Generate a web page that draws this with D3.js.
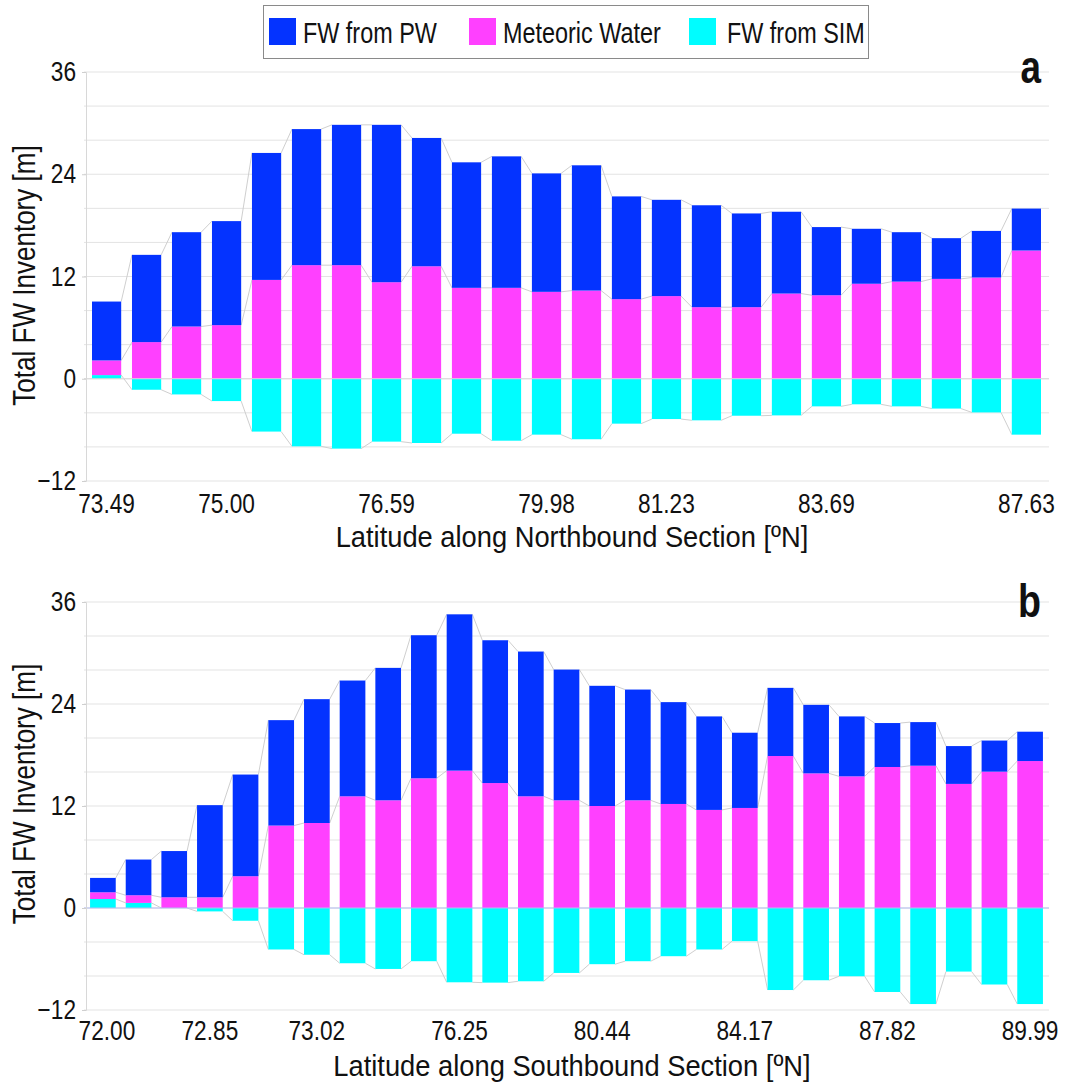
<!DOCTYPE html>
<html>
<head>
<meta charset="UTF-8">
<title>FW Inventory</title>
<script src="https://d3js.org/d3.v7.min.js"></script>
<style>
  body { margin: 0; background: #fff; }
  text { font-family: "Liberation Sans", Arial, sans-serif; fill: #111; }
</style>
</head>
<body>
<svg width="1065" height="1082"></svg>
<script>
// panel a: northbound section
const pwA  = [6.91, 10.24, 11.07, 12.21, 14.9, 15.97, 16.47, 18.47, 15.06, 14.73, 15.43, 13.9,
              14.7, 12.06, 11.3, 11.96, 11.0, 9.6, 8.0, 6.45, 5.8, 4.78, 5.47, 4.92];
const mwA  = [1.72, 4.3, 6.13, 6.29, 11.6, 13.33, 13.33, 11.33, 13.2, 10.67, 10.67, 10.2,
              10.35, 9.34, 9.7, 8.4, 8.4, 10.0, 9.8, 11.15, 11.4, 11.72, 11.88, 15.05];
const simA = [0.43, -1.29, -1.84, -2.62, -6.2, -7.93, -8.2, -7.38, -7.54, -6.45, -7.27, -6.56,
              -7.1, -5.27, -4.73, -4.88, -4.34, -4.3, -3.24, -3.0, -3.24, -3.5, -3.95, -6.56];
const tickIdxA = [0, 3, 7, 11, 14, 18, 23];
const tickLabA = ["73.49", "75.00", "76.59", "79.98", "81.23", "83.69", "87.63"];

// panel b: southbound section
const pwB  = [1.69, 4.2, 5.44, 10.84, 11.96, 12.4, 14.57, 13.62, 15.58, 16.83, 18.39, 16.8, 17.03,
              15.38, 14.14, 13.03, 11.98, 11.0, 8.85, 8.02, 8.06, 7.05, 5.17, 5.13, 4.45, 3.66, 3.45];
const mwB  = [0.79, 0.9, 1.26, 1.26, 3.74, 9.7, 10.0, 13.14, 12.67, 15.26, 16.16, 14.7, 13.14,
              12.67, 12.0, 12.67, 12.24, 11.54, 11.77, 17.88, 15.84, 15.49, 16.59, 16.74, 14.6, 16.04, 17.29];
const simB = [1.06, 0.6, 0, -0.4, -1.5, -4.88, -5.5, -6.5, -7.17, -6.26, -8.74, -8.78, -8.62,
              -7.64, -6.61, -6.26, -5.67, -4.88, -3.9, -9.65, -8.5, -8.03, -9.88, -11.3, -7.48, -9.0, -11.3];
const tickIdxB = [0, 3, 6, 10, 14, 18, 22, 26];
const tickLabB = ["72.00", "72.85", "73.02", "76.25", "80.44", "84.17", "87.82", "89.99"];

const legendNames = ["FW from PW", "Meteoric Water", "FW from SIM"];
const keys = ["sim", "mw", "pw"];          // stack order from zero outward
const colors = { pw: "#0433FF", mw: "#FF40FF", sim: "#00FDFF" };

const svg = d3.select("svg");
const X0 = 84, X1 = 1049;

// squeeze text horizontally to get a condensed face
function narrow(sel, s, extra) {
  sel.each(function () {
    const t = d3.select(this);
    const x = +t.attr("x") || 0, y = +t.attr("y") || 0;
    t.attr("x", null).attr("y", null)
      .attr("transform", `translate(${x},${y})${extra || ""} scale(${s},1)`);
  });
}

function drawPanel(o) {
  const rows = o.pw.map((v, i) => ({ i: i, pw: v, mw: o.mw[i], sim: o.sim[i] }));
  const x = d3.scaleBand().domain(d3.range(rows.length)).range([X0, X1])
    .paddingInner(o.pi).paddingOuter(o.po);
  const y = d3.scaleLinear().domain([-12, 36]).range([o.bottom, o.top]);
  const bw = x.bandwidth();
  const g = svg.append("g");

  // grid every 4
  g.append("g").selectAll("line").data(d3.range(-12, 37, 4)).join("line")
    .attr("x1", X0).attr("x2", X1)
    .attr("y1", d => y(d)).attr("y2", d => y(d))
    .attr("stroke", "#e3e3e3").attr("stroke-width", 1);

  const series = d3.stack().keys(keys).offset(d3.stackOffsetDiverging)(rows);

  // series lines joining the outer end of each segment
  series.forEach(s => {
    const end = s.map(d => d.data[s.key] >= 0 ? d[1] : d[0]);
    const segs = d3.range(s.length - 1).map(i => [[x(i) + bw, y(end[i])], [x(i + 1), y(end[i + 1])]]);
    g.append("g").selectAll("path").data(segs).join("path")
      .attr("d", d => d3.line()(d))
      .attr("fill", "none").attr("stroke", "#cfcfcf").attr("stroke-width", 1);
  });

  // bars
  g.selectAll(".layer").data(series).join("g")
    .attr("fill", s => colors[s.key])
    .selectAll("rect").data(s => s).join("rect")
    .attr("x", d => x(d.data.i))
    .attr("width", bw)
    .attr("y", d => y(Math.max(d[0], d[1])))
    .attr("height", d => Math.abs(y(d[0]) - y(d[1])));

  // zero line
  g.append("line").attr("x1", X0).attr("x2", X1)
    .attr("y1", y(0)).attr("y2", y(0))
    .attr("stroke", o.zeroColor).attr("stroke-width", 1);

  // y axis
  const ya = g.append("g").attr("transform", `translate(${X0 + 2},0)`)
    .call(d3.axisLeft(y).tickValues([-12, 0, 12, 24, 36]).tickSize(4).tickPadding(6));
  ya.select(".domain").attr("stroke", "#d8d8d8");
  ya.selectAll(".tick line").attr("stroke", "#cfcfcf");
  ya.selectAll(".tick text").attr("font-size", 27)
    .style("font-family", "'Liberation Sans', Arial, sans-serif")
    .attr("fill", "#111").call(narrow, 0.84);

  // x tick labels
  g.append("g").selectAll("text").data(o.tickIdx).join("text")
    .attr("x", (d, k) => x(d) + bw / 2 + (k === 0 ? o.firstShift : 0))
    .attr("y", o.bottom + o.tickDy)
    .attr("text-anchor", "middle").attr("font-size", 27)
    .text((d, k) => o.tickLab[k])
    .call(narrow, 0.84);

  // axis titles
  g.append("text").attr("x", 572).attr("y", o.bottom + o.titleDy)
    .attr("text-anchor", "middle").attr("font-size", 30).text(o.xTitle)
    .call(narrow, 0.91);
  g.append("text")
    .attr("x", 35).attr("y", (o.top + o.bottom) / 2 + o.yTitleDy)
    .attr("text-anchor", "middle").attr("font-size", 31).text("Total FW Inventory [m]")
    .call(narrow, 0.84, " rotate(-90)");

  // panel letter
  g.append("text").attr("x", 1041).attr("y", o.top + o.letterDy)
    .attr("text-anchor", "end").attr("font-size", o.letterSize).attr("font-weight", "bold")
    .text(o.letter).call(narrow, 0.8);
}

drawPanel({ pw: pwA, mw: mwA, sim: simA, tickIdx: tickIdxA, tickLab: tickLabA,
  top: 72, bottom: 481, pi: 0.27, po: 0.2, letter: "a", letterDy: 11, letterSize: 46,
  firstShift: 0, tickDy: 32, titleDy: 66, yTitleDy: -1,
  zeroColor: "#d8d8d8", xTitle: "Latitude along Northbound Section [ºN]" });
drawPanel({ pw: pwB, mw: mwB, sim: simB, tickIdx: tickIdxB, tickLab: tickLabB,
  top: 602, bottom: 1010, pi: 0.28, po: 0.17, letter: "b", letterDy: 15, letterSize: 47,
  firstShift: 4, tickDy: 30, titleDy: 66, yTitleDy: -12,
  zeroColor: "#b3bdf2", xTitle: "Latitude along Southbound Section [ºN]" });

// legend
const lg = svg.append("g");
lg.append("rect").attr("x", 263.5).attr("y", 5.5).attr("width", 605).attr("height", 53)
  .attr("fill", "#fff").attr("stroke", "#8a8a8a");
const swX = [269, 469, 689];
const txX = [303, 503, 727];
const legKeys = ["pw", "mw", "sim"];
lg.selectAll("rect.sw").data(legKeys).join("rect").attr("class", "sw")
  .attr("x", (d, i) => swX[i]).attr("y", 18).attr("width", 27).attr("height", 27)
  .attr("fill", d => colors[d]);
lg.selectAll("text").data(legendNames).join("text")
  .attr("x", (d, i) => txX[i]).attr("y", 43).attr("font-size", 30)
  .text(d => d).call(narrow, 0.78);
</script>
</body>
</html>
